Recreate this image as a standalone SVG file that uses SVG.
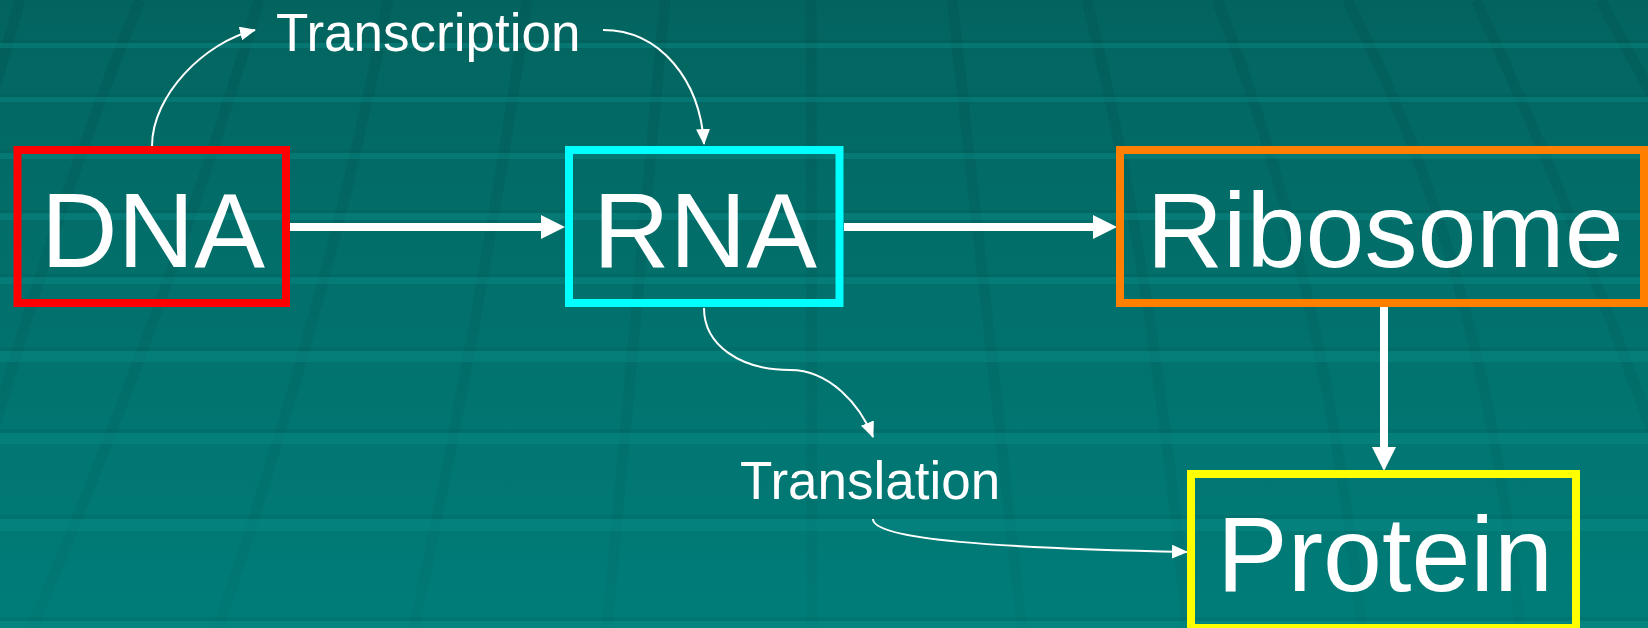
<svg xmlns="http://www.w3.org/2000/svg" width="1648" height="628" viewBox="0 0 1648 628">
  <defs>
    <linearGradient id="bg" x1="0" y1="0" x2="0" y2="628" gradientUnits="userSpaceOnUse">
      <stop offset="0" stop-color="#03645f"/>
      <stop offset="0.5" stop-color="#02716d"/>
      <stop offset="1" stop-color="#007d79"/>
    </linearGradient>
    <linearGradient id="stripeFade" x1="0" y1="0" x2="0" y2="628" gradientUnits="userSpaceOnUse">
      <stop offset="0" stop-color="#004c48" stop-opacity="0.26"/>
      <stop offset="1" stop-color="#004c48" stop-opacity="0.07"/>
    </linearGradient>
    <marker id="headThick" markerUnits="userSpaceOnUse" markerWidth="24" markerHeight="24" refX="0" refY="12" orient="auto">
      <path d="M0,0 L24,12 L0,24 z" fill="#ffffff"/>
    </marker>
    <marker id="headThin" markerUnits="userSpaceOnUse" markerWidth="16" markerHeight="14" refX="15" refY="7" orient="auto">
      <path d="M0,0 L16,7 L0,14 z" fill="#ffffff"/>
    </marker>
  </defs>
  <style>
    .box { fill: none; stroke-width: 8; }
    .big { font-family: "Liberation Sans", Arial, sans-serif; font-size: 106px; fill: #ffffff; text-anchor: middle; }
    .small { font-family: "Liberation Sans", Arial, sans-serif; font-size: 53px; fill: #ffffff; }
    .thick { fill: none; stroke: #ffffff; stroke-width: 8; marker-end: url(#headThick); }
    .thin { fill: none; stroke: #ffffff; stroke-width: 2; marker-end: url(#headThin); }
    .stripe { fill: none; stroke: url(#stripeFade); stroke-width: 11; }
    .bandDark { fill: #004f4b; opacity: 0.15; }
    .bandLight { fill: #0a8f8a; opacity: 0.4; }
  </style>

  <!-- backdrop: teal floor with receding grid -->
  <g id="background">
    <rect x="0" y="0" width="1648" height="628" fill="url(#bg)"/>
    <g id="floor-stripes">
      <path class="stripe" d="M20,0 Q-60,280 -150,628"/>
      <path class="stripe" d="M140,0 Q40,240 -60,628"/>
      <path class="stripe" d="M259,0 Q176,286 32,628"/>
      <path class="stripe" d="M388,0 Q333,286 218,628"/>
      <path class="stripe" d="M527,0 Q487,286 414,628"/>
      <path class="stripe" d="M665,0 L607,628"/>
      <path class="stripe" d="M811,0 L812,628"/>
      <path class="stripe" d="M952,0 Q985,290 1022,628"/>
      <path class="stripe" d="M1087,0 Q1153,266 1187,628"/>
      <path class="stripe" d="M1217,0 Q1322,266 1362,628"/>
      <path class="stripe" d="M1347,0 Q1486,266 1520,628"/>
      <path class="stripe" d="M1476,0 Q1600,266 1720,628"/>
      <path class="stripe" d="M1600,0 Q1750,266 1900,628"/>
    </g>
    <g id="floor-bands">
      <rect class="bandDark" x="0" y="40" width="1648" height="3"/>
      <rect class="bandLight" x="0" y="43" width="1648" height="5"/>
      <rect class="bandDark" x="0" y="94" width="1648" height="3"/>
      <rect class="bandLight" x="0" y="97" width="1648" height="5"/>
      <rect class="bandDark" x="0" y="150" width="1648" height="3"/>
      <rect class="bandLight" x="0" y="153" width="1648" height="6"/>
      <rect class="bandDark" x="0" y="210" width="1648" height="3"/>
      <rect class="bandLight" x="0" y="213" width="1648" height="7"/>
      <rect class="bandDark" x="0" y="274" width="1648" height="3"/>
      <rect class="bandLight" x="0" y="277" width="1648" height="7"/>
      <rect class="bandDark" x="0" y="347" width="1648" height="4"/>
      <rect class="bandLight" x="0" y="351" width="1648" height="11"/>
      <rect class="bandDark" x="0" y="429" width="1648" height="4"/>
      <rect class="bandLight" x="0" y="433" width="1648" height="11"/>
      <rect class="bandDark" x="0" y="515" width="1648" height="4"/>
      <rect class="bandLight" x="0" y="519" width="1648" height="12"/>
      <rect class="bandDark" x="0" y="617" width="1648" height="4"/>
      <rect class="bandLight" x="0" y="621" width="1648" height="7"/>
    </g>
  </g>

  <!-- connectors -->
  <g id="connectors">
    <path class="thick" d="M290,227 L541,227"/>
    <path class="thick" d="M844,227 L1093,227"/>
    <path class="thick" d="M1384,307 L1384,447"/>
    <path class="thin" d="M152,146 C152,95 205,42 255,30"/>
    <path class="thin" d="M603,30 C660,30 700,80 704,144"/>
    <path class="thin" d="M704,308 C704,345 740,370 790,370 C830,370 860,405 873,437"/>
    <path class="thin" d="M873,519 C873,540 1000,548 1187,552"/>
  </g>

  <!-- nodes -->
  <g id="node-dna">
    <rect class="box" x="17.5" y="150" width="268.5" height="153" stroke="#ff0000"/>
    <text class="big" x="153" y="267">DNA</text>
  </g>
  <g id="node-rna">
    <rect class="box" x="569" y="150" width="270.5" height="153" stroke="#00ffff"/>
    <text class="big" x="705" y="267">RNA</text>
  </g>
  <g id="node-ribosome">
    <rect class="box" x="1120" y="150" width="524" height="153" stroke="#ff8000"/>
    <text class="big" x="1385" y="267">Ribosome</text>
  </g>
  <g id="node-protein">
    <rect class="box" x="1191" y="474" width="385" height="154" stroke="#ffff00"/>
    <text class="big" x="1385" y="591">Protein</text>
  </g>

  <!-- process labels -->
  <g id="label-transcription">
    <text class="small" x="276" y="51">Transcription</text>
  </g>
  <g id="label-translation">
    <text class="small" x="740" y="499">Translation</text>
  </g>
</svg>
